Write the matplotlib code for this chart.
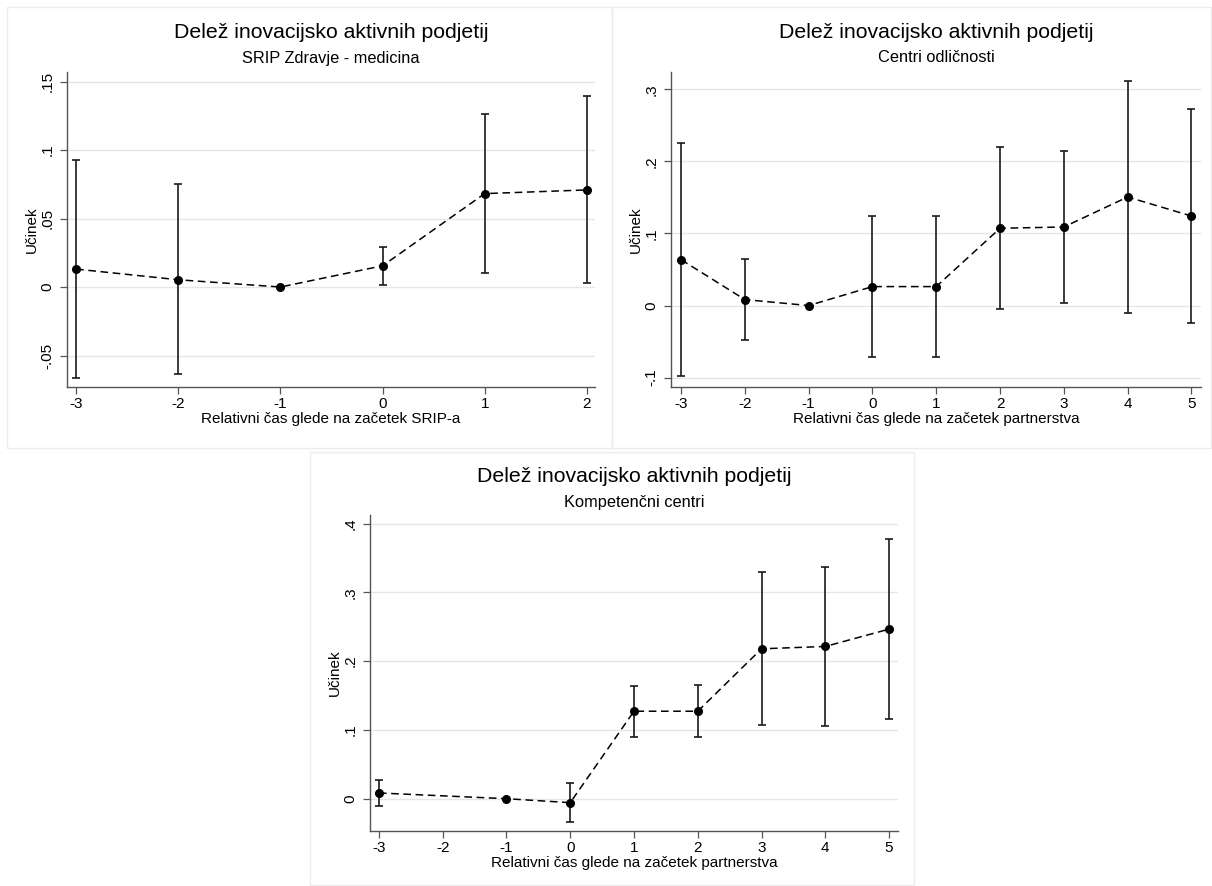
import matplotlib
matplotlib.use("Agg")
import matplotlib.pyplot as plt
from matplotlib.patches import Rectangle

plt.rcParams['font.family'] = ['Liberation Sans', 'DejaVu Sans']

title = "Delež inovacijsko aktivnih podjetij"
ylabel = "Učinek"

# Panel 1: SRIP Zdravje - medicina
p1_sub = "SRIP Zdravje - medicina"
p1_xlabel = "Relativni čas glede na začetek SRIP-a"
p1_x = [-3, -2, -1, 0, 1, 2]
p1_y = [0.0131, 0.0053, 0.0, 0.0155, 0.0682, 0.0709]
p1_lo = [-0.0665, -0.0638, None, 0.0017, 0.0102, 0.0027]
p1_hi = [0.0927, 0.0750, None, 0.0294, 0.1260, 0.1396]
p1_yticks = [-0.05, 0, 0.05, 0.1, 0.15]
p1_yticklabels = ["-.05", "0", ".05", ".1", ".15"]
p1_xticks = [-3, -2, -1, 0, 1, 2]

# Panel 2: Centri odličnosti
p2_sub = "Centri odličnosti"
p2_xlabel = "Relativni čas glede na začetek partnerstva"
p2_x = [-3, -2, -1, 0, 1, 2, 3, 4, 5]
p2_y = [0.0637, 0.0083, 0.0, 0.0263, 0.0263, 0.1072, 0.1090, 0.1506, 0.1242]
p2_lo = [-0.0975, -0.0480, None, -0.0716, -0.0716, -0.0046, 0.0037, -0.0106, -0.0245]
p2_hi = [0.2259, 0.0651, None, 0.1238, 0.1238, 0.2194, 0.2143, 0.3118, 0.2730]
p2_yticks = [-0.1, 0, 0.1, 0.2, 0.3]
p2_yticklabels = ["-.1", "0", ".1", ".2", ".3"]
p2_xticks = [-3, -2, -1, 0, 1, 2, 3, 4, 5]

# Panel 3: Kompetenčni centri
p3_sub = "Kompetenčni centri"
p3_xlabel = "Relativni čas glede na začetek partnerstva"
p3_x = [-3, -1, 0, 1, 2, 3, 4, 5]
p3_y = [0.0083, 0.0, -0.0058, 0.1272, 0.1272, 0.2180, 0.2214, 0.2466]
p3_lo = [-0.0112, None, -0.0335, 0.0898, 0.0898, 0.1068, 0.1063, 0.1155]
p3_hi = [0.0277, None, 0.0228, 0.1640, 0.1650, 0.3290, 0.3369, 0.3777]
p3_yticks = [0, 0.1, 0.2, 0.3, 0.4]
p3_yticklabels = ["0", ".1", ".2", ".3", ".4"]
p3_xticks = [-3, -2, -1, 0, 1, 2, 3, 4, 5]

W, H = 1212, 886
fig = plt.figure(figsize=(W / 100, H / 100), dpi=100)
fig.patch.set_facecolor("white")


def px_rect(x0, y0, x1, y1):
    return [x0 / W, 1 - y1 / H, (x1 - x0) / W, (y1 - y0) / H]


# panel frames
for (x0, y0, x1, y1) in [(7, 7, 612, 448), (612, 7, 1211, 448), (310, 452, 914, 885)]:
    fig.patches.append(Rectangle((x0 / W, 1 - y1 / H), (x1 - x0) / W, (y1 - y0) / H,
                                 transform=fig.transFigure, fill=False,
                                 edgecolor="#ececec", linewidth=1.0))

axes_specs = [
    ((67, 72, 595, 387), p1_x, p1_y, p1_lo, p1_hi, p1_yticks, p1_yticklabels, p1_xticks,
     (-3.09, 2.08), (-0.073, 0.157), p1_sub, p1_xlabel, 33, 58),
    ((671, 72, 1201, 387), p2_x, p2_y, p2_lo, p2_hi, p2_yticks, p2_yticklabels, p2_xticks,
     (-3.157, 5.15), (-0.113, 0.324), p2_sub, p2_xlabel, 33, 58),
    ((370, 515, 898, 831), p3_x, p3_y, p3_lo, p3_hi, p3_yticks, p3_yticklabels, p3_xticks,
     (-3.14, 5.14), (-0.047, 0.4126), p3_sub, p3_xlabel, 477, 502),
]

for spec in axes_specs:
    (rect, xs, ys, lo, hi, yt, ytl, xt, xl, yl, sub, xlab, ty, sy) = spec
    ax = fig.add_axes(px_rect(*rect))
    ax.set_xlim(*xl)
    ax.set_ylim(*yl)
    for v in yt:
        ax.axhline(v, color="#e6e6e6", linewidth=1.0, zorder=0)
    ax.plot(xs, ys, linestyle=(0, (5, 3)), color="black", linewidth=1.1, zorder=2)
    ax.plot(xs, ys, linestyle="none", marker="o", markersize=5.5, color="black", zorder=3)
    for x, l, h in zip(xs, lo, hi):
        if l is None:
            continue
        ax.errorbar([x], [(l + h) / 2], yerr=[[(h - l) / 2], [(h - l) / 2]], fmt="none",
                    ecolor="#1a1a1a", elinewidth=1.2, capsize=3, capthick=1.2, zorder=2)
    ax.set_yticks(yt)
    ax.set_yticklabels(ytl, rotation=90, va="center")
    ax.set_xticks(xt)
    ax.set_xticklabels([str(t) for t in xt])
    ax.tick_params(axis="both", labelsize=11, length=5, width=0.9, color="#555555",
                   direction="out")
    ax.tick_params(axis="x", pad=2)
    ax.tick_params(axis="y", pad=4)
    for s in ["top", "right"]:
        ax.spines[s].set_visible(False)
    for s in ["left", "bottom"]:
        ax.spines[s].set_color("#555555")
        ax.spines[s].set_linewidth(1.0)
    ax.set_ylabel(ylabel, fontsize=11, labelpad=1)
    ax.set_xlabel(xlab, fontsize=11, labelpad=1)
    cx = (rect[0] + rect[2]) / 2 / W
    fig.text(cx, 1 - ty / H, title, ha="center", va="center", fontsize=15.3)
    fig.text(cx, 1 - sy / H, sub, ha="center", va="center", fontsize=11.8)

fig.savefig("out.png", dpi=100)
